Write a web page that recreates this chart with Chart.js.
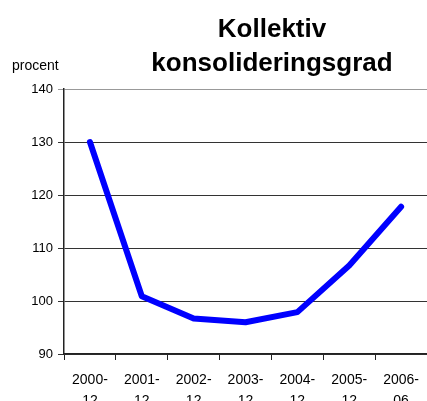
<!DOCTYPE html>
<html>
<head>
<meta charset="utf-8">
<script src="https://cdn.jsdelivr.net/npm/chart.js@4/dist/chart.umd.min.js"></script>
<style>
  html, body { margin: 0; padding: 0; background: #fff; overflow: hidden; }
  #wrap { position: relative; width: 428px; height: 416px; }
</style>
</head>
<body>
<div id="wrap"><canvas id="Konsolidering"></canvas></div>
<script>
// Données
const periodes = [['2000-', '12'], ['2001-', '12'], ['2002-', '12'], ['2003-', '12'], ['2004-', '12'], ['2005-', '12'], ['2006-', '06']];
const konsolideringsgrad = [130, 100.9, 96.7, 96, 97.9, 106.7, 117.8];
const titelRader = ['Kollektiv', 'konsolideringsgrad'];
const enhet = 'procent';

const fontFamily = '"Liberation Sans", Arial, sans-serif';

// Titre et unité dessinés à la main pour coller à la position d'origine
const textePlugin = {
    id: 'texteTitre',
    afterDraw(chart) {
        const ctx = chart.ctx;
        ctx.save();
        ctx.fillStyle = '#000';
        ctx.textAlign = 'center';
        ctx.textBaseline = 'alphabetic';
        ctx.font = `bold 26px ${fontFamily}`;
        ctx.fillText(titelRader[0], 272, 37);
        ctx.fillText(titelRader[1], 272, 71);
        ctx.font = `14px ${fontFamily}`;
        ctx.textAlign = 'left';
        ctx.fillText(enhet, 12, 70);
        ctx.restore();
    }
};

new Chart(document.getElementById('Konsolidering').getContext('2d'), {
    type: 'line',
    data: {
        labels: periodes,
        datasets: [{
            label: 'Kollektiv konsolideringsgrad',
            data: konsolideringsgrad,
            borderColor: '#0000ff',
            borderWidth: 6,
            borderCapStyle: 'round',
            borderJoinStyle: 'round',
            pointRadius: 0,
            tension: 0,
            fill: false
        }]
    },
    options: {
        responsive: true,
        maintainAspectRatio: false,
        animation: false,
        layout: { padding: { top: 89, left: 0, right: 0, bottom: 0 } },
        plugins: {
            legend: { display: false },
            title: { display: false },
            tooltip: { enabled: false }
        },
        scales: {
            y: {
                min: 90,
                max: 140,
                ticks: {
                    stepSize: 10,
                    color: '#000',
                    padding: 5,
                    font: { family: fontFamily, size: 13 }
                },
                grid: {
                    color: (c) => (c.tick && c.tick.value === 140 ? '#999' : '#333'),
                    lineWidth: 1,
                    tickLength: 6
                },
                border: { color: '#222', width: 1.5 },
                afterFit: (scale) => { scale.width = 64; }
            },
            x: {
                offset: true,
                ticks: {
                    color: '#000',
                    padding: 9,
                    maxRotation: 0,
                    autoSkip: false,
                    font: { family: fontFamily, size: 14, lineHeight: 1.55 }
                },
                grid: {
                    offset: true,
                    drawOnChartArea: false,
                    color: '#222',
                    tickLength: 6
                },
                border: { color: '#222', width: 1.5 },
                afterFit: (scale) => { scale.height = 62; }
            }
        }
    },
    plugins: [textePlugin]
});
</script>
</body>
</html>
